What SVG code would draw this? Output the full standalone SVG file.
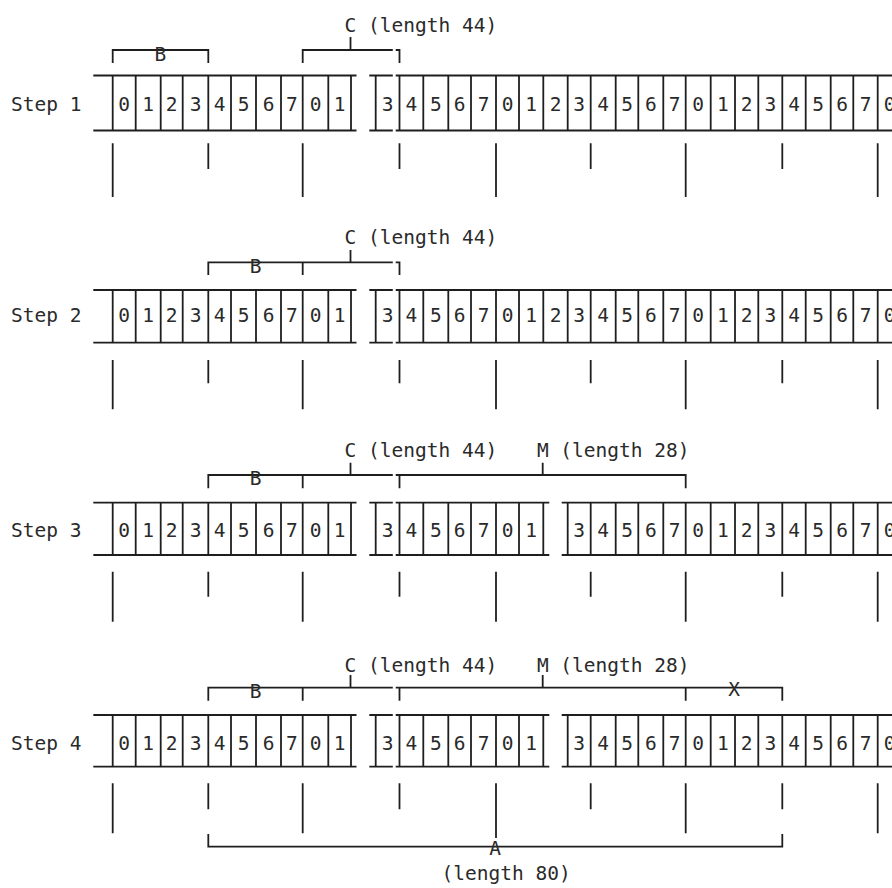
<svg xmlns="http://www.w3.org/2000/svg" width="892" height="888" viewBox="0 0 892 888">
<style>
.ln{fill:none;stroke:#1e1e1e;stroke-width:1.8}
.t{font-family:"DejaVu Sans Mono","Liberation Mono",monospace;font-size:19.5px;fill:#2a2a2a}
.m{text-anchor:middle}
</style>
<rect width="892" height="888" fill="#fff"/>

<g id="step1">
  <text class="t" x="11" y="111">Step 1</text>
  <path class="ln" d="M93.3 75.5H356.5M369.3 75.5H392.8M395.7 75.5H892M93.3 130.5H356.5M369.3 130.5H392.8M395.7 130.5H892"/>
  <path class="ln" d="M112.7 75.5V130.5M135.7 75.5V130.5M160.7 75.5V130.5M182.7 75.5V130.5M208.3 75.5V130.5M231 75.5V130.5M256 75.5V130.5M281 75.5V130.5M302.7 75.5V130.5M328.3 75.5V130.5M351 75.5V130.5M375.7 75.5V130.5M399.5 75.5V130.5M423.3 75.5V130.5M448.3 75.5V130.5M471 75.5V130.5M496 75.5V130.5M519 75.5V130.5M543.3 75.5V130.5M567.7 75.5V130.5M590.7 75.5V130.5M615.7 75.5V130.5M638.3 75.5V130.5M663.3 75.5V130.5M685.7 75.5V130.5M710.7 75.5V130.5M735 75.5V130.5M758.3 75.5V130.5M782.3 75.5V130.5M805.7 75.5V130.5M830.7 75.5V130.5M853.3 75.5V130.5M877.7 75.5V130.5"/>
  <text class="t m" x="124.2 148.2 171.7 195.5 219.7 243.5 268.5 291.9 315.5 339.7 387.6 411.4 435.8 459.7 483.5 507.5 531.2 555.5 579.2 603.2 627 650.8 674.5 698.2 722.9 746.7 770.3 794 818.2 842 865.5 889.7" y="111">01234567013456701234567012345670</text>
  <g id="step1-brackets">
    <path class="ln" d="M112.7 63V50H208.3V63M302.7 63V50H392.8M395.7 50H399.5V63M350.5 50V37"/>
    <text class="t m" x="160.4" y="60.5">B</text>
    <text class="t" x="344.6" y="32">C (length 44)</text>
  </g>
  <path class="ln" d="M112.7 143.3V197M208.3 143.3V169M302.7 143.3V197M399.5 143.3V169M496 143.3V197M590.7 143.3V169M685.7 143.3V197M782.3 143.3V169M877.7 143.3V197"/>
</g>

<g id="step2">
  <text class="t" x="11" y="322">Step 2</text>
  <path class="ln" d="M93.3 290H356.5M369.3 290H392.8M395.7 290H892M93.3 342.7H356.5M369.3 342.7H392.8M395.7 342.7H892"/>
  <path class="ln" d="M112.7 290V342.7M135.7 290V342.7M160.7 290V342.7M182.7 290V342.7M208.3 290V342.7M231 290V342.7M256 290V342.7M281 290V342.7M302.7 290V342.7M328.3 290V342.7M351 290V342.7M375.7 290V342.7M399.5 290V342.7M423.3 290V342.7M448.3 290V342.7M471 290V342.7M496 290V342.7M519 290V342.7M543.3 290V342.7M567.7 290V342.7M590.7 290V342.7M615.7 290V342.7M638.3 290V342.7M663.3 290V342.7M685.7 290V342.7M710.7 290V342.7M735 290V342.7M758.3 290V342.7M782.3 290V342.7M805.7 290V342.7M830.7 290V342.7M853.3 290V342.7M877.7 290V342.7"/>
  <text class="t m" x="124.2 148.2 171.7 195.5 219.7 243.5 268.5 291.9 315.5 339.7 387.6 411.4 435.8 459.7 483.5 507.5 531.2 555.5 579.2 603.2 627 650.8 674.5 698.2 722.9 746.7 770.3 794 818.2 842 865.5 889.7" y="322">01234567013456701234567012345670</text>
  <g id="step2-brackets">
    <path class="ln" d="M208.3 275V262.3H392.8M302.7 262.3V275M350.5 262.3V250M395.7 262.3H399.5V275"/>
    <text class="t m" x="255.5" y="272.5">B</text>
    <text class="t" x="344.6" y="244">C (length 44)</text>
  </g>
  <path class="ln" d="M112.7 360V409.3M208.3 360V383.3M302.7 360V409.3M399.5 360V383.3M496 360V409.3M590.7 360V383.3M685.7 360V409.3M782.3 360V383.3M877.7 360V409.3"/>
</g>

<g id="step3">
  <text class="t" x="11" y="536.5">Step 3</text>
  <path class="ln" d="M93.3 502.7H356.5M369.3 502.7H392.8M395.7 502.7H549.3M561.7 502.7H892M93.3 555H356.5M369.3 555H392.8M395.7 555H549.3M561.7 555H892"/>
  <path class="ln" d="M112.7 502.7V555M135.7 502.7V555M160.7 502.7V555M182.7 502.7V555M208.3 502.7V555M231 502.7V555M256 502.7V555M281 502.7V555M302.7 502.7V555M328.3 502.7V555M351 502.7V555M375.7 502.7V555M399.5 502.7V555M423.3 502.7V555M448.3 502.7V555M471 502.7V555M496 502.7V555M519 502.7V555M543.3 502.7V555M567.7 502.7V555M590.7 502.7V555M615.7 502.7V555M638.3 502.7V555M663.3 502.7V555M685.7 502.7V555M710.7 502.7V555M735 502.7V555M758.3 502.7V555M782.3 502.7V555M805.7 502.7V555M830.7 502.7V555M853.3 502.7V555M877.7 502.7V555"/>
  <text class="t m" x="124.2 148.2 171.7 195.5 219.7 243.5 268.5 291.9 315.5 339.7 387.6 411.4 435.8 459.7 483.5 507.5 531.2 579.2 603.2 627 650.8 674.5 698.2 722.9 746.7 770.3 794 818.2 842 865.5 889.7" y="536.5">0123456701345670134567012345670</text>
  <g id="step3-brackets">
    <path class="ln" d="M208.3 488.3V475H392.8M395.7 475H685.7V488.3M302.7 475V488.3M399.5 475V488.3M350.5 475V462.7M542.7 475V462.7"/>
    <text class="t m" x="255.5" y="485">B</text>
    <text class="t" x="344.6" y="456.5">C (length 44)</text>
    <text class="t" x="536.9" y="456.5">M (length 28)</text>
  </g>
  <path class="ln" d="M112.7 571.7V621.7M208.3 571.7V596.7M302.7 571.7V621.7M399.5 571.7V596.7M496 571.7V621.7M590.7 571.7V596.7M685.7 571.7V621.7M782.3 571.7V596.7M877.7 571.7V621.7"/>
</g>

<g id="step4">
  <text class="t" x="11" y="750">Step 4</text>
  <path class="ln" d="M93.3 715H356.5M369.3 715H392.8M395.7 715H549.3M561.7 715H892M93.3 766.7H356.5M369.3 766.7H392.8M395.7 766.7H549.3M561.7 766.7H892"/>
  <path class="ln" d="M112.7 715V766.7M135.7 715V766.7M160.7 715V766.7M182.7 715V766.7M208.3 715V766.7M231 715V766.7M256 715V766.7M281 715V766.7M302.7 715V766.7M328.3 715V766.7M351 715V766.7M375.7 715V766.7M399.5 715V766.7M423.3 715V766.7M448.3 715V766.7M471 715V766.7M496 715V766.7M519 715V766.7M543.3 715V766.7M567.7 715V766.7M590.7 715V766.7M615.7 715V766.7M638.3 715V766.7M663.3 715V766.7M685.7 715V766.7M710.7 715V766.7M735 715V766.7M758.3 715V766.7M782.3 715V766.7M805.7 715V766.7M830.7 715V766.7M853.3 715V766.7M877.7 715V766.7"/>
  <text class="t m" x="124.2 148.2 171.7 195.5 219.7 243.5 268.5 291.9 315.5 339.7 387.6 411.4 435.8 459.7 483.5 507.5 531.2 579.2 603.2 627 650.8 674.5 698.2 722.9 746.7 770.3 794 818.2 842 865.5 889.7" y="750">0123456701345670134567012345670</text>
  <g id="step4-brackets">
    <path class="ln" d="M208.3 700.7V687.7H392.8M395.7 687.7H782.3V700.7M302.7 687.7V700.7M399.5 687.7V700.7M685.7 687.7V700.7M350.5 687.7V675M542.7 687.7V675"/>
    <text class="t m" x="255.5" y="698">B</text>
    <text class="t m" x="734" y="695.5">X</text>
    <text class="t" x="344.6" y="672">C (length 44)</text>
    <text class="t" x="536.9" y="672">M (length 28)</text>
  </g>
  <path class="ln" d="M112.7 783.3V833.3M208.3 783.3V809.3M302.7 783.3V833.3M399.5 783.3V809.3M496 783.3V838M590.7 783.3V809.3M685.7 783.3V833.3M782.3 783.3V809.3M877.7 783.3V833.3"/>
  <g id="step4-A">
    <path class="ln" d="M208.3 834V846.7H782.3V834"/>
    <text class="t m" x="495" y="855">A</text>
    <text class="t" x="441.5" y="879.5">(length 80)</text>
  </g>
</g>
</svg>
